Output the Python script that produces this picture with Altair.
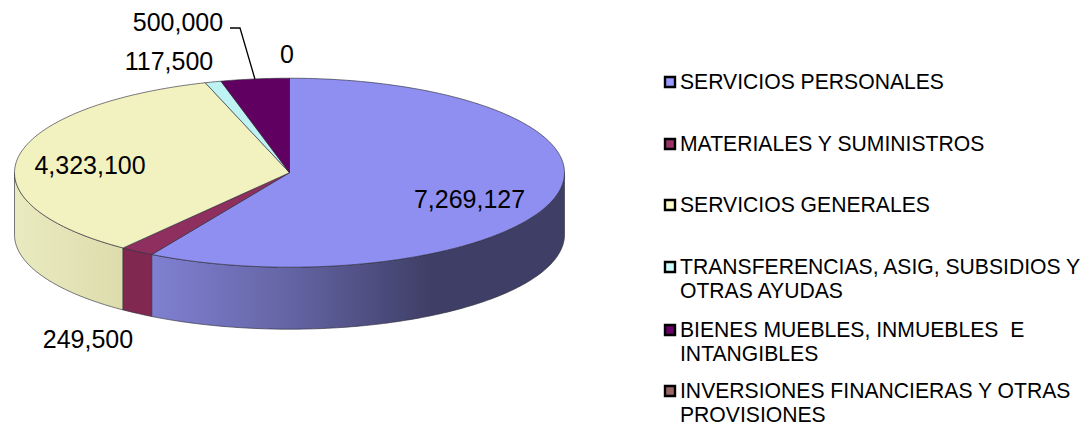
import math
import altair as alt
import pandas as pd

# ---- chart values ----
categories = ["SERVICIOS PERSONALES", "MATERIALES Y SUMINISTROS", "SERVICIOS GENERALES",
              "TRANSFERENCIAS, ASIG, SUBSIDIOS Y OTRAS AYUDAS",
              "BIENES MUEBLES, INMUEBLES  E INTANGIBLES",
              "INVERSIONES FINANCIERAS Y OTRAS PROVISIONES"]
values = [7269127, 249500, 4323100, 117500, 500000, 0]
value_labels = ["7,269,127", "249,500", "4,323,100", "117,500", "500,000", "0"]
top_colors = ["#8f8ff2", "#8e2f60", "#f2f2c0", "#bff2f2", "#600060", "#8f5c5c"]
legend_colors = ["#9999ff", "#993366", "#ffffcc", "#ccffff", "#660066", "#996666"]
legend_lines = [["SERVICIOS PERSONALES"], ["MATERIALES Y SUMINISTROS"], ["SERVICIOS GENERALES"],
                ["TRANSFERENCIAS, ASIG, SUBSIDIOS Y", "OTRAS AYUDAS"],
                ["BIENES MUEBLES, INMUEBLES\u00a0 E", "INTANGIBLES"],
                ["INVERSIONES FINANCIERAS Y OTRAS", "PROVISIONES"]]

# ---- layout (page pixels) ----
CX, CY, RX, RY, DEPTH = 289.5, 172.7, 275.0, 94.5, 62.0
FONT = "Liberation Sans"
pix_x = alt.Scale(domain=[8, 1083], nice=False, zero=False)
pix_y = alt.Scale(domain=[425, 8], nice=False, zero=False)
X = lambda f: alt.X(f, type="quantitative", scale=pix_x, axis=None)
Y = lambda f: alt.Y(f, type="quantitative", scale=pix_y, axis=None)


def rim(deg):
    t = math.radians(deg)
    return CX + RX * math.sin(t), CY - RY * math.cos(t)


total = sum(values)
spans, acc = [], 0.0
for v in values:
    a0 = acc
    acc += v / total * 360
    spans.append((a0, acc))


def steps(a0, a1, per_deg=1):
    n = max(1, int(abs(a1 - a0) * per_deg))
    return [a0 + (a1 - a0) * i / n for i in range(n + 1)]


# top wedges
rows = []
for name, (a0, a1) in zip(categories, spans):
    rows.append(dict(name=name, k=0, x=CX, y=CY))
    for i, a in enumerate(steps(a0, a1)):
        x, y = rim(a)
        rows.append(dict(name=name, k=i + 1, x=x, y=y))
    rows.append(dict(name=name, k=100000, x=CX, y=CY))
top_df = pd.DataFrame(rows)


def side(a0, a1, stops, stroke="#2e2e3a"):
    a0, a1 = max(a0, 90), min(a1, 270)
    d = []
    for a in steps(a0, a1):
        x, y = rim(a)
        d.append(dict(x=x, y=y, y2=y + DEPTH))
    return alt.Chart(pd.DataFrame(d)).mark_area(
        color=alt.Gradient(gradient="linear", x1=0, x2=1, y1=0, y2=0,
                           stops=[alt.GradientStop(offset=o, color=c) for o, c in stops]),
        stroke=stroke, strokeWidth=0.8, strokeOpacity=0.8,
    ).encode(x=X("x"), y=Y("y"), y2="y2:Q")


layers = [
    side(*spans[2], [(0, "#eaeac0"), (0.5, "#e3e3b7"), (1, "#dcdcac")]),
    side(*spans[1], [(0, "#802850"), (1, "#802850")]),
    side(*spans[0], [(0, "#8080d2"), (0.335, "#6464a4"), (0.68, "#3e3e66"), (1, "#3e3e66")]),
]

layers.append(
    alt.Chart(top_df).mark_line(stroke="#2e2e3a", strokeWidth=0.8, strokeOpacity=0.8).encode(
        x=X("x"), y=Y("y"), order="k:Q",
        fill=alt.Fill("name:N", scale=alt.Scale(domain=categories, range=top_colors), legend=None),
    )
)

# leader line of the 500,000 label, ending on the rim at the slice's mid angle
ex, ey = rim(sum(spans[4]) / 2)
layers.append(alt.Chart(pd.DataFrame([dict(x=230.0, y=28.0, k=0), dict(x=240.0, y=28.0, k=1), dict(x=ex, y=ey, k=2)]))
              .mark_line(color="#000000", strokeWidth=1.3).encode(x=X("x"), y=Y("y"), order="k:Q"))

# data labels
label_pos = [(469.5, 200), (88, 340), (90, 166), (169, 62), (178, 23), (287, 55)]
for txt, (lx, ly) in zip(value_labels, label_pos):
    layers.append(
        alt.Chart(pd.DataFrame([dict(x=lx, y=ly, t=txt)]))
        .mark_text(font=FONT, fontSize=25, color="#000000", align="center", baseline="middle")
        .encode(x=X("x"), y=Y("y"), text="t:N")
    )

# legend
legend_y = [82, 144, 205, 267, 330, 391]
legend_gap = 24.5
leg = []
txt = []
for name, col, lines, ly in zip(categories, legend_colors, legend_lines, legend_y):
    leg.append(dict(name=name, x=670.0, y=ly))
    for i, line in enumerate(lines):
        txt.append(dict(x=680.0, y=ly + 0.5 + i * legend_gap, t=line))
layers.append(
    alt.Chart(pd.DataFrame(leg)).mark_square(size=100, opacity=1, stroke="#000000", strokeWidth=2.4).encode(
        x=X("x"), y=Y("y"),
        fill=alt.Fill("name:N", scale=alt.Scale(domain=categories, range=legend_colors), legend=None),
    )
)
layers.append(
    alt.Chart(pd.DataFrame(txt)).mark_text(font=FONT, fontSize=21.15, color="#000000", align="left", baseline="middle")
    .encode(x=X("x"), y=Y("y"), text="t:N")
)

chart = alt.layer(*layers).resolve_scale(fill="independent").properties(
    width=1075, height=417, padding=0, autosize=alt.AutoSizeParams(type="none")
).configure_view(stroke=None)

chart.save("out.html", embed_options={"renderer": "svg", "actions": False})
